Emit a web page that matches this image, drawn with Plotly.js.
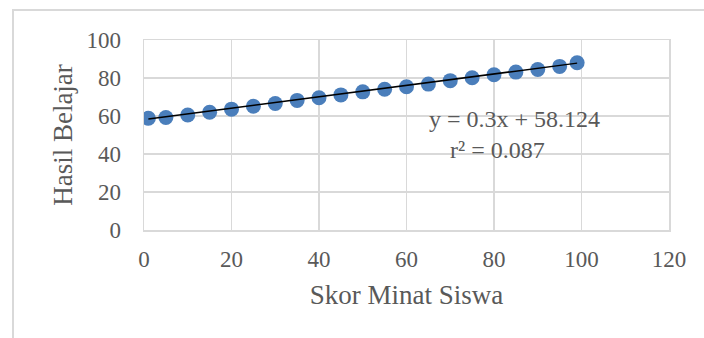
<!DOCTYPE html>
<html>
<head>
<meta charset="utf-8">
<script src="https://cdn.plot.ly/plotly-3.0.1.min.js"></script>
<style>
html,body{margin:0;padding:0;background:#fff;overflow:hidden;}
#wrap{position:relative;width:704px;height:338px;}
#frame{position:absolute;left:12px;top:9px;width:800px;height:400px;border-left:2px solid #d9d9d9;border-top:2px solid #d9d9d9;pointer-events:none;}
#chart{position:absolute;left:0;top:0;width:704px;height:338px;}
</style>
</head>
<body>
<div id="wrap">
<div id="chart"></div>
<div id="frame"></div>
</div>
<script>
var skorMinat = [1, 5, 10, 15, 20, 25, 30, 35, 40, 45, 50, 55, 60, 65, 70, 75, 80, 85, 90, 95, 99];
var hasilBelajar = [58.8, 59.2, 60.5, 62.0, 63.6, 65.1, 66.6, 68.2, 69.6, 71.1, 72.7, 74.1, 75.4, 76.8, 78.6, 80.1, 81.7, 83.1, 84.5, 86.1, 88.0];
var slope = 0.3;
var intercept = 58.124;
var eqText = "y = 0.3x + 58.124";
var r2Text = "r\u00B2 = 0.087";
var xTicks = [0, 20, 40, 60, 80, 100, 120];
var yTicks = [0, 20, 40, 60, 80, 100];

var xMin = Math.min.apply(null, skorMinat), xMax = Math.max.apply(null, skorMinat);
var trendX = [xMin, xMax];
var trendY = trendX.map(function(v){ return slope * v + intercept; });

var font = "'Liberation Serif', 'Times New Roman', 'DejaVu Serif', serif";
var grey = "#595959";

var data = [
  {x: skorMinat, y: hasilBelajar, type: "scatter", mode: "markers",
   marker: {color: "#4a7ebb", size: 15}, hoverinfo: "skip"},
  {x: trendX, y: trendY, type: "scatter", mode: "lines",
   line: {color: "#000000", width: 1.5}, hoverinfo: "skip"}
];

var layout = {
  width: 704, height: 338,
  margin: {l: 143.5, r: 34.5, t: 40, b: 108},
  paper_bgcolor: "#ffffff", plot_bgcolor: "#ffffff",
  showlegend: false,
  font: {family: font, color: grey},
  xaxis: {
    range: [0, 120], tickvals: xTicks, ticktext: xTicks.map(String),
    showgrid: true, gridcolor: "#d9d9d9", gridwidth: 1.5,
    zeroline: false, showline: true, linecolor: "#d9d9d9", linewidth: 1.5, mirror: true,
    ticks: "", ticklabelstandoff: 8,
    tickfont: {family: font, size: 23, color: grey},
    title: {text: "Skor Minat Siswa", font: {family: font, size: 27, color: grey}, standoff: 14}
  },
  yaxis: {
    range: [0, 100], tickvals: yTicks, ticktext: yTicks.map(String),
    showgrid: true, gridcolor: "#d9d9d9", gridwidth: 1.5,
    zeroline: false, showline: true, linecolor: "#d9d9d9", linewidth: 1.5, mirror: true,
    ticks: "", ticklabelstandoff: 17,
    tickfont: {family: font, size: 23, color: grey},
    title: {text: "Hasil Belajar", font: {family: font, size: 27, color: grey}, standoff: 6}
  },
  annotations: [
    {x: 84.6, y: 58.5, xref: "x", yref: "y", text: eqText, showarrow: false,
     font: {family: font, size: 24, color: grey}, xanchor: "center", yanchor: "middle"},
    {x: 80.9, y: 42.3, xref: "x", yref: "y", text: r2Text, showarrow: false,
     font: {family: font, size: 24, color: grey}, xanchor: "center", yanchor: "middle"}
  ]
};

Plotly.newPlot("chart", data, layout, {staticPlot: true, displayModeBar: false});
</script>
</body>
</html>
